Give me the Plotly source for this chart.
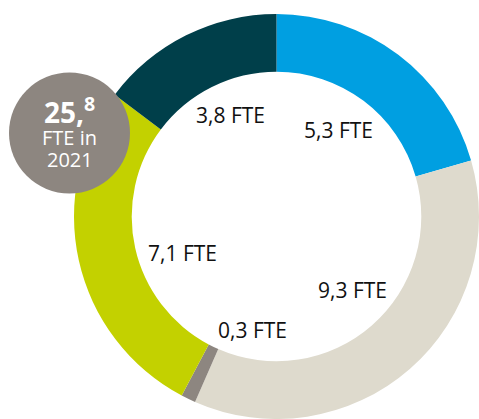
import plotly.graph_objects as go

# Data (clockwise from 12 o'clock)
categories = ["A", "B", "C", "D", "E"]
values = [5.3, 9.3, 0.3, 7.1, 3.8]
colors = ["#009FE1", "#DEDACD", "#8D8680", "#C3D100", "#003F4A"]
total_value = 25.8
total_year = "2021"

W, H = 479, 419

def fmt(v):
    return f"{v:.1f}".replace(".", ",")

fig = go.Figure(
    go.Pie(
        labels=categories,
        values=values,
        sort=False,
        direction="clockwise",
        rotation=0,
        hole=0.715,
        marker=dict(colors=colors, line=dict(width=0)),
        textinfo="none",
        hoverinfo="label+value",
        showlegend=False,
        domain=dict(x=[74 / W, 1.0], y=[0.0, 405 / H]),
    )
)

# label positions in pixels (layout, not data)
label_pos = [(338, 130), (352.5, 290), (252.5, 330), (182.5, 252.5), (230.5, 114.5)]
annotations = []
for v, (px, py) in zip(values, label_pos):
    annotations.append(dict(
        x=px / W, y=1 - py / H, xref="paper", yref="paper",
        text=f"{fmt(v)} FTE", showarrow=False,
        xanchor="center", yanchor="middle",
        font=dict(family="Open Sans", size=21, color="#111111"),
    ))

# Bubble with total
bx, by, br = 69.5, 133, 60.5
shapes = [dict(
    type="circle", xref="paper", yref="paper",
    x0=(bx - br) / W, x1=(bx + br) / W,
    y0=1 - (by + br) / H, y1=1 - (by - br) / H,
    fillcolor="#8D8680", line=dict(width=0), layer="above",
)]
int_part, dec_part = fmt(total_value).split(",")
annotations.append(dict(
    x=bx / W, y=1 - 110 / H, xref="paper", yref="paper",
    text=f"<b>{int_part},<sup>{dec_part}</sup></b>", showarrow=False,
    xanchor="center", yanchor="middle",
    font=dict(family="Open Sans", size=28, color="white"),
))
annotations.append(dict(
    x=bx / W, y=1 - 137 / H, xref="paper", yref="paper",
    text="FTE in", showarrow=False, xanchor="center", yanchor="middle",
    font=dict(family="Open Sans", size=20, color="white"),
))
annotations.append(dict(
    x=bx / W, y=1 - 159 / H, xref="paper", yref="paper",
    text=total_year, showarrow=False, xanchor="center", yanchor="middle",
    font=dict(family="Open Sans", size=20, color="white"),
))

fig.update_layout(
    width=W, height=H,
    margin=dict(l=0, r=0, t=0, b=0),
    paper_bgcolor="white", plot_bgcolor="white",
    shapes=shapes, annotations=annotations,
)

fig.write_html(
    "out.html",
    config={"displayModeBar": False},
    post_script="document.body.style.margin='0';document.body.style.overflow='hidden';",
)
